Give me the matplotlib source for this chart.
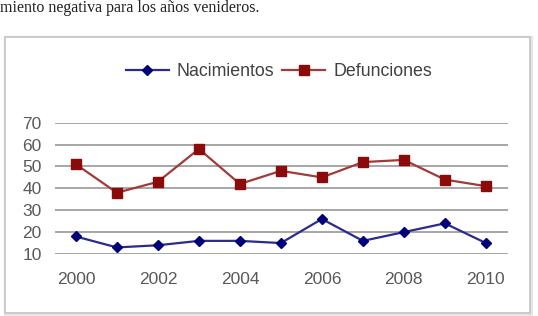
import matplotlib
matplotlib.use("Agg")
import matplotlib.pyplot as plt
from matplotlib.patches import Rectangle

years = [2000, 2001, 2002, 2003, 2004, 2005, 2006, 2007, 2008, 2009, 2010]
nacimientos = [18, 13, 14, 16, 16, 15, 26, 16, 20, 24, 15]
defunciones = [51, 38, 43, 58, 42, 48, 45, 52, 53, 44, 41]
yticks = [10, 20, 30, 40, 50, 60, 70]
xticks = [2000, 2002, 2004, 2006, 2008, 2010]
caption = "miento negativa para los años venideros."

W, H = 538, 316
fig = plt.figure(figsize=(W / 100, H / 100), dpi=100)
fig.patch.set_facecolor("white")

# chart frame
fig.patches.append(Rectangle((6 / W, 1 - 314 / H), 525 / W, 276 / H,
                             transform=fig.transFigure, facecolor="none",
                             edgecolor="#e6e6e6", linewidth=3.0, zorder=-2))
fig.patches.append(Rectangle((5 / W, 1 - 313 / H), 525 / W, 276 / H,
                             transform=fig.transFigure, facecolor="white",
                             edgecolor="#c4c4c4", linewidth=1.2, zorder=-1))

# caption text (previous paragraph, partially visible)
fig.text(0 / W, 1 - 0.5 / H, caption, ha="left", va="top",
         family="Liberation Serif", fontsize=11.5, color="#222222")

left, right = 55 / W, 508 / W
bottom, top = 1 - 254 / H, 1 - 122.7 / H
ax = fig.add_axes([left, bottom, right - left, top - bottom])
ax.set_facecolor("none")
ax.set_xlim(1999.49, 2010.54)
ax.set_ylim(10, 70)
ax.set_yticks(yticks)
ax.set_xticks(xticks)
ax.set_yticklabels([str(v) for v in yticks])
ax.set_xticklabels([str(v) for v in xticks])
ax.grid(axis="y", color="#a6a6a6", linewidth=1.4)
ax.set_axisbelow(True)
for s in ax.spines.values():
    s.set_visible(False)
ax.tick_params(axis="both", length=0, labelsize=12.5, labelcolor="#595959")
ax.tick_params(axis="y", pad=9.5)
ax.tick_params(axis="x", pad=13)
for lab in ax.get_xticklabels() + ax.get_yticklabels():
    lab.set_family("Liberation Sans")

ax.plot(years, nacimientos, color="#2b2b8f", linewidth=1.6, marker="D",
        markersize=5, markerfacecolor="#00007a", markeredgecolor="#00007a",
        label="Nacimientos", clip_on=False)
ax.plot(years, defunciones, color="#a33a3a", linewidth=1.6, marker="s",
        markersize=6.5, markerfacecolor="#8b0a0a", markeredgecolor="#8b0a0a",
        label="Defunciones", clip_on=False)

fig.legend(loc="center", bbox_to_anchor=(279 / W, 1 - 72 / H), ncol=2,
           frameon=False, handlelength=2.4, handletextpad=0.45,
           columnspacing=0.45,
           prop={"family": "Liberation Sans", "size": 12.8},
           labelcolor="#404040")

fig.savefig("out.png", dpi=100, facecolor="white")
